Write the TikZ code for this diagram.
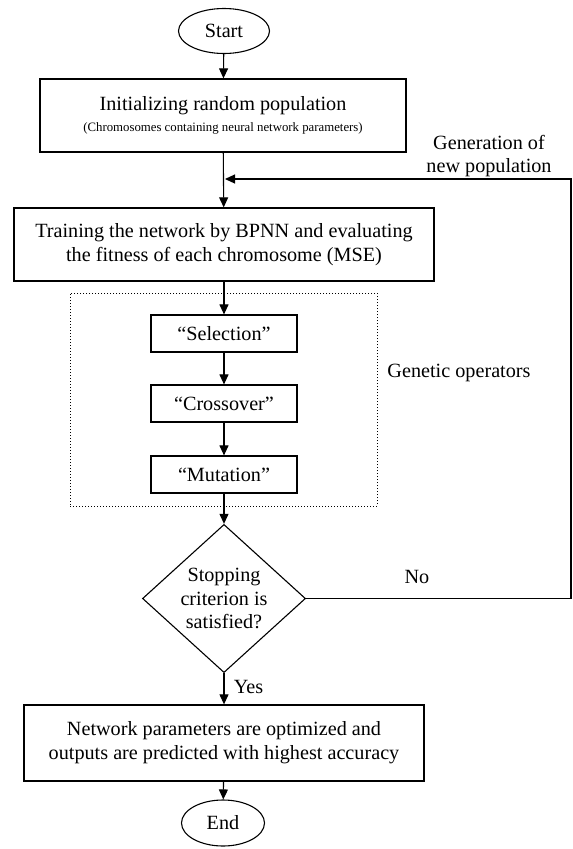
\documentclass[tikz,border=0pt]{standalone}
\usepackage{fontspec}
\setmainfont{Liberation Serif}
\usetikzlibrary{shapes,arrows.meta,calc}

\begin{document}
\begin{tikzpicture}[x=1pt,y=-1pt,font=\fontsize{20.2}{23.8}\selectfont]
\tikzstyle{term}=[draw,ellipse,line width=1.1pt,inner sep=0pt]
\tikzstyle{process}=[draw,rectangle,line width=1.3pt,align=center,inner sep=0pt]
\tikzstyle{decision}=[draw,diamond,line width=1.1pt,align=center,inner sep=0pt]
\tikzstyle{flow}=[-{Triangle[length=10pt,width=9pt]},line width=1.1pt]
\useasboundingbox (0,0) rectangle (573,849);
% main column
\node[term,minimum width=91,minimum height=45] (start) at (224,31) {Start};
\node[process,minimum width=366,minimum height=73] (init) at (223,115.5) {Initializing random population\\[-3pt]{\fontsize{12.8}{14}\selectfont (Chromosomes containing neural network parameters)}};
\node[process,minimum width=420,minimum height=73] (train) at (224,244.5) {Training the network by BPNN and evaluating\\the fitness of each chromosome (MSE)};
% genetic operators
\node[draw,dotted,line width=1pt,minimum width=307,minimum height=213,inner sep=0pt] (opsframe) at (223.5,399.5) {};
\node[process,line width=1.2pt,minimum width=146,minimum height=37] (sel) at (224,333.5) {``Selection''};
\node[process,line width=1.2pt,minimum width=146,minimum height=37] (cross) at (224,403.5) {``Crossover''};
\node[process,line width=1.2pt,minimum width=146,minimum height=37] (mut) at (224,474.5) {``Mutation''};
\node (label_ops) at (459,373) {Genetic operators};
% decision and end
\node[decision,minimum width=163,minimum height=145] (stop) at (224,598.5) {Stopping\\criterion is\\satisfied?};
\node[process,minimum width=400,minimum height=76] (final) at (224,743) {Network parameters are optimized and\\outputs are predicted with highest accuracy};
\node[term,minimum width=83,minimum height=46] (end) at (223,823) {End};
% connectors
\draw[flow] (start) -- (init);
\draw[flow] (init) -- (train);
\draw[flow] (train) -- (sel);
\draw[flow] (sel) -- (cross);
\draw[flow] (cross) -- (mut);
\draw[flow] (mut) -- (stop);
\draw[flow] (stop) -- (final);
\draw[flow] (final) -- (end);
\node (label_yes) at (248.5,687) {Yes};
% feedback loop
\coordinate (fbcorner) at (571,598.5);
\coordinate (fbtop) at (571,179);
\coordinate (fbin) at (225,179);
\draw[flow] (stop.east) -- (fbcorner) -- (fbtop) -- (fbin);
\node (label_no) at (417,577) {No};
\node[align=center] (label_gen) at (489,156) {Generation of\\new population};
\end{tikzpicture}
\end{document}
